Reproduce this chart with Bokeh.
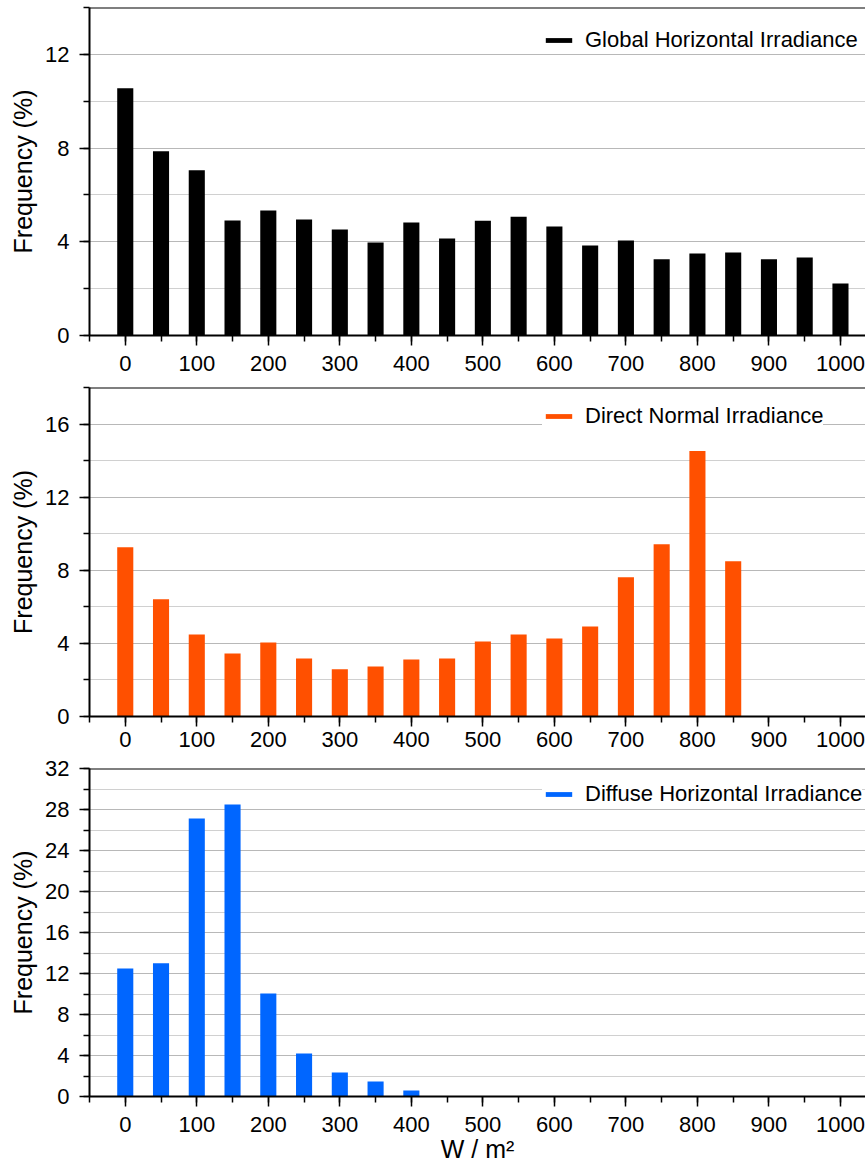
from bokeh.plotting import figure
from bokeh.layouts import column
from bokeh.models import (ColumnDataSource, SingleIntervalTicker, Legend, LegendItem,
                          Range1d, Span)
from bokeh.embed import file_html
from bokeh.resources import INLINE

# ---- data ----
bins = [0, 50, 100, 150, 200, 250, 300, 350, 400, 450, 500,
        550, 600, 650, 700, 750, 800, 850, 900, 950, 1000]
ghi = [10.55, 7.86, 7.05, 4.91, 5.34, 4.95, 4.52, 3.97, 4.82, 4.14, 4.90,
       5.07, 4.65, 3.84, 4.05, 3.25, 3.50, 3.54, 3.25, 3.33, 2.22]
dni = [9.26, 6.41, 4.49, 3.45, 4.05, 3.18, 2.58, 2.74, 3.12, 3.18, 4.11,
       4.49, 4.27, 4.93, 7.62, 9.42, 14.52, 8.49, 0.0, 0.0, 0.0]
dhi = [12.49, 13.0, 27.12, 28.49, 10.05, 4.2, 2.35, 1.47, 0.59, 0.0, 0.0,
       0.0, 0.0, 0.0, 0.0, 0.0, 0.0, 0.0, 0.0, 0.0, 0.0]

labels = ["Global Horizontal Irradiance", "Direct Normal Irradiance",
          "Diffuse Horizontal Irradiance"]
colors = ["#000000", "#ff5000", "#0066ff"]
y_max = [14, 18, 32]
x_label = "W / m\u00b2"
y_label = "Frequency (%)"

FONT = "Liberation Sans"


def make_panel(values, label, color, ymax, height, top_border, bottom_border,
               legend_loc, x_standoff, xlabel=None):
    p = figure(width=865, height=height, output_backend="svg", toolbar_location=None,
               x_range=Range1d(-50, 1035), y_range=Range1d(0, ymax),
               min_border_left=89, min_border_right=0, min_border_top=top_border,
               min_border_bottom=bottom_border)
    p.outline_line_color = None
    p.background_fill_color = "white"
    p.border_fill_color = "white"

    src = ColumnDataSource(dict(x=bins, top=values))
    r = p.vbar(x="x", top="top", width=22.5, source=src, fill_color=color, line_color=None)

    # axes
    xa = p.xaxis[0]
    xa.ticker = SingleIntervalTicker(interval=100, num_minor_ticks=2)
    ya = p.yaxis[0]
    ya.ticker = SingleIntervalTicker(interval=4, num_minor_ticks=2)
    for ax in (xa, ya):
        ax.axis_line_width = 2
        ax.axis_line_color = "black"
        ax.major_tick_in = 0
        ax.minor_tick_in = 0
        ax.major_tick_out = 10
        ax.minor_tick_out = 6
        ax.major_tick_line_width = 1.5
        ax.minor_tick_line_width = 1.5
        ax.major_tick_line_color = "black"
        ax.minor_tick_line_color = "black"
        ax.major_label_text_font = FONT
        ax.major_label_text_font_size = "22px"
        ax.major_label_text_color = "black"
        ax.axis_label_text_font = FONT
        ax.axis_label_text_font_size = "25px"
        ax.axis_label_text_font_style = "normal"
        ax.axis_label_text_color = "black"
    xa.major_label_standoff = x_standoff
    ya.major_label_standoff = 10
    ya.axis_label = y_label
    ya.axis_label_standoff = 5
    if xlabel:
        xa.axis_label = xlabel
        xa.axis_label_standoff = 0

    # grid
    p.xgrid.grid_line_color = None
    p.ygrid.ticker = ya.ticker
    p.ygrid.grid_line_color = "#b8b8b8"
    p.ygrid.grid_line_width = 1
    p.ygrid.minor_grid_line_color = "#d0d0d0"
    p.ygrid.minor_grid_line_width = 1

    # top frame border
    p.add_layout(Span(location=ymax, dimension="width", line_color="black", line_width=2))

    legend = Legend(items=[LegendItem(label=label, renderers=[r])], location=legend_loc,
                    glyph_width=33, glyph_height=6, label_standoff=10, padding=2,
                    spacing=0, margin=0, border_line_color=None,
                    background_fill_color="white", background_fill_alpha=1.0,
                    label_text_font=FONT, label_text_font_size="22px",
                    label_text_color="black")
    p.add_layout(legend)
    return p


p1 = make_panel(ghi, labels[0], colors[0], y_max[0], 380, 7, 45, (453, 282), 10)
p2 = make_panel(dni, labels[1], colors[1], y_max[1], 376, 7, 40, (453, 287), 5)
p3 = make_panel(dhi, labels[2], colors[2], y_max[2], 410, 12, 70, (453, 289), 10,
                xlabel=x_label)

layout = column(p1, p2, p3, spacing=0)
open("out.html", "w").write(file_html(layout, INLINE))
